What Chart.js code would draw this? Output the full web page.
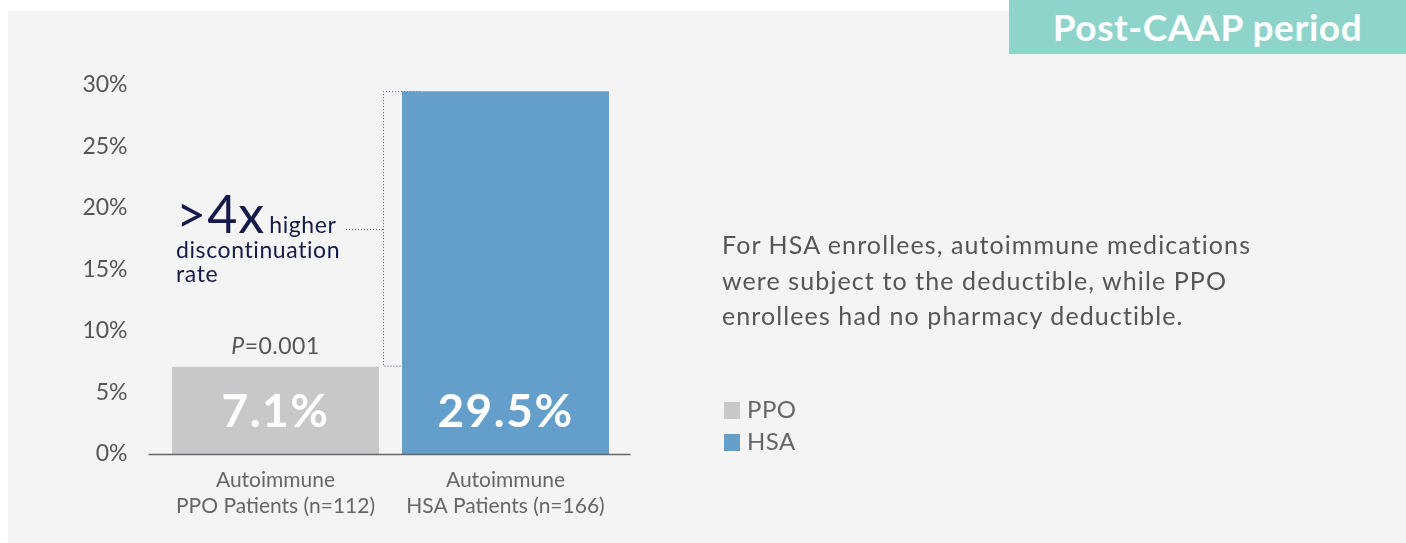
<!DOCTYPE html>
<html>
<head>
<meta charset="utf-8">
<script src="https://cdn.jsdelivr.net/npm/chart.js@4"></script>
<style>
  html, body { margin: 0; padding: 0; background: #fff; }
  body { width: 1406px; height: 543px; position: relative; overflow: hidden; font-family: Lato, sans-serif; }
  #panel { position: absolute; left: 8px; top: 11px; right: 0; bottom: 0; background: #f3f4f3; }
  #badge { position: absolute; left: 1009px; top: 0; width: 397px; height: 54px; background: #8ed4cb;
           color: #fff; font-weight: 700; font-size: 37px; line-height: 54px; text-align: center; letter-spacing: 0.6px; }
  #wrap { position: absolute; left: 0; top: 0; width: 1406px; height: 543px; }
  #note { position: absolute; left: 722px; top: 227px; color: #555; font-size: 25px; line-height: 35.5px; letter-spacing: 1.1px; }
  #legend { position: absolute; left: 724px; top: 393px; color: #666; font-size: 24px; line-height: 32px; letter-spacing: 0.5px; }
  #legend .sw { display: inline-block; width: 16px; height: 17px; margin-right: 7px; vertical-align: -1px; }
</style>
</head>
<body>
<div id="panel"></div>
<div id="badge">Post-CAAP period</div>
<div id="wrap"><canvas id="caapChart" width="1406" height="543"></canvas></div>
<div id="note">For HSA enrollees, autoimmune medications<br>were subject to the deductible, while PPO<br>enrollees had no pharmacy deductible.</div>
<div id="legend"></div>
<script>
// POST-CAAP DISCONTINUATION CHART

const groups = [['Autoimmune', 'PPO Patients (n=112)'], ['Autoimmune', 'HSA Patients (n=166)']];
const seriesNames = ['PPO', 'HSA'];
const rates = [7.1, 29.5];
const barColors = ['#c7c8ca', '#639fca'];
const yTicks = [0, 5, 10, 15, 20, 25, 30];
const pValue = '0.001';

// legend
document.getElementById('legend').innerHTML = seriesNames.map((name, i) =>
  '<div><span class="sw" style="background:' + barColors[i] + '"></span>' + name + '</div>'
).join('');

const navy = '#151a4b';

const extrasPlugin = {
  id: 'extras',
  beforeDatasetsDraw(chart) {
    const ctx = chart.ctx;
    const bars = chart.getDatasetMeta(0).data;
    const ppo = bars[0], hsa = bars[1];
    const bx = hsa.x - hsa.width / 2 - 19;
    ctx.save();
    ctx.strokeStyle = '#555a78';
    ctx.lineWidth = 1;
    ctx.setLineDash([1, 2]);
    ctx.beginPath();
    ctx.moveTo(hsa.x - hsa.width / 2 + 18, hsa.y + 0.5);
    ctx.lineTo(bx + 0.5, hsa.y + 0.5);
    ctx.lineTo(bx + 0.5, ppo.y - 0.5);
    ctx.lineTo(hsa.x - hsa.width / 2, ppo.y - 0.5);
    const midY = Math.round(chart.scales.y.getPixelForValue(18.3)) + 0.5;
    ctx.moveTo(bx, midY);
    ctx.lineTo(bx - 38, midY);
    ctx.stroke();
    ctx.restore();
  },
  afterDatasetsDraw(chart) {
    const ctx = chart.ctx;
    const meta = chart.getDatasetMeta(0);
    const base = chart.scales.y.getPixelForValue(0);
    ctx.save();
    // value labels inside bars
    ctx.fillStyle = '#fff';
    ctx.font = '700 46px Lato';
    ctx.letterSpacing = '1.5px';
    ctx.textAlign = 'center';
    ctx.textBaseline = 'middle';
    meta.data.forEach((bar, i) => {
      ctx.fillText(rates[i].toFixed(1) + '%', bar.x, base - 42);
    });
    ctx.letterSpacing = '0.5px';
    // p value above PPO bar
    const ppo = meta.data[0];
    ctx.font = 'italic 23px Lato';
    const pw = ctx.measureText('P').width;
    ctx.font = '23px Lato';
    const rest = '=' + pValue;
    const rw = ctx.measureText(rest).width;
    const sx = ppo.x - (pw + rw) / 2;
    ctx.fillStyle = '#555';
    ctx.textAlign = 'left';
    ctx.fillText(rest, sx + pw, ppo.y - 20);
    ctx.font = 'italic 23px Lato';
    ctx.fillText('P', sx, ppo.y - 20);
    // >4x annotation
    ctx.fillStyle = navy;
    ctx.textBaseline = 'alphabetic';
    const ax = ppo.x - ppo.width / 2 + 4;
    const ay = chart.scales.y.getPixelForValue(18.0);
    ctx.letterSpacing = '1px';
    ctx.font = '400 52px Lato';
    ctx.fillText('>4x', ax, ay);
    const w4 = ctx.measureText('>4x').width;
    ctx.letterSpacing = '0.6px';
    ctx.font = '23px Lato';
    ctx.fillText('higher', ax + w4 + 4, ay);
    ctx.fillText('discontinuation', ax, ay + 25);
    ctx.fillText('rate', ax, ay + 49);
    ctx.restore();
  },
  afterDraw(chart) {
    const ctx = chart.ctx;
    const y = Math.round(chart.scales.y.getPixelForValue(0)) + 0.5;
    ctx.save();
    ctx.strokeStyle = '#666';
    ctx.lineWidth = 1.5;
    ctx.beginPath();
    ctx.moveTo(chart.chartArea.left - 12, y);
    ctx.lineTo(chart.chartArea.right + 10, y);
    ctx.stroke();
    ctx.restore();
  }
};

const renderCaapChart = () => {
  return new Chart(document.getElementById('caapChart'), {
    type: 'bar',
    data: {
      labels: groups,
      datasets: [{
        label: 'Discontinuation rate',
        backgroundColor: barColors,
        data: rates,
        barPercentage: 0.9,
        categoryPercentage: 1.0
      }]
    },
    options: {
      responsive: false,
      animation: false,
      layout: { padding: { left: 0, right: 785.5, top: 85, bottom: 0 } },
      plugins: {
        legend: { display: false },
        tooltip: { enabled: false }
      },
      scales: {
        x: {
          grid: { display: false, drawTicks: false },
          border: { display: false },
          ticks: { color: '#666', font: { family: 'Lato', size: 21, lineHeight: 1.25 }, padding: 13, maxRotation: 0 },
          afterFit: (scale) => { scale.height = 89; }
        },
        y: {
          min: 0,
          max: 30,
          grid: { display: false, drawTicks: false },
          border: { display: false },
          afterBuildTicks: (scale) => { scale.ticks = yTicks.map(v => ({ value: v })); },
          ticks: { color: '#555', font: { family: 'Lato', size: 23 }, padding: 33, callback: v => v + '%' },
          afterFit: (scale) => { scale.width = 160.5; }
        }
      }
    },
    plugins: [extrasPlugin]
  });
};

renderCaapChart();
</script>
</body>
</html>
